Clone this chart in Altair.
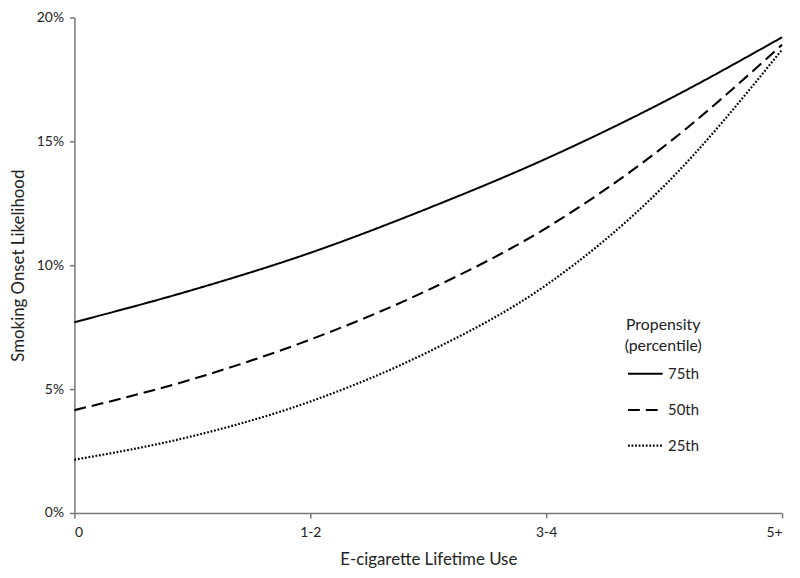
import altair as alt
import pandas as pd

categories = ["0", "1-2", "3-4", "5+"]
x_pos = [0, 0.5, 1, 1.5, 2, 2.5, 3]
series_names = ["75th", "50th", "25th"]
p75 = [7.7, 9.0, 10.5, 12.3, 14.3, 16.6, 19.2]
p50 = [4.15, 5.4, 7.0, 9.0, 11.5, 14.8, 18.9]
p25 = [2.15, 3.1, 4.5, 6.5, 9.2, 13.2, 18.7]
y_ticks = [0, 5, 10, 15, 20]

rows = []
for name, vals in zip(series_names, [p75, p50, p25]):
    for x, v in zip(x_pos, vals):
        rows.append({"x": x, "y": v / 100, "Propensity": name})
df = pd.DataFrame(rows)

label_expr = "[" + ",".join(f"'{c}'" for c in categories) + "][datum.value]"

FONT = "Lato"

chart = alt.Chart(df).mark_line(interpolate="monotone", color="black").encode(
    x=alt.X("x:Q", scale=alt.Scale(domain=[0, 3], nice=False),
            axis=alt.Axis(values=[0, 1, 2, 3], labelExpr=label_expr,
                          title="E-cigarette Lifetime Use", grid=False,
                          titlePadding=12, labelPadding=8)),
    y=alt.Y("y:Q", scale=alt.Scale(domain=[0, 0.2], nice=False),
            axis=alt.Axis(values=[t / 100 for t in y_ticks], format=".0%",
                          title="Smoking Onset Likelihood", grid=False,
                          titlePadding=9, labelPadding=6)),
    strokeDash=alt.StrokeDash("Propensity:N",
                              scale=alt.Scale(domain=series_names,
                                              range=[[1, 0], [12, 6], [1.8, 1.8]]),
                              legend=alt.Legend(title=["Propensity", "(percentile)"],
                                                orient="none", legendX=555, legendY=302,
                                                symbolType="stroke", symbolSize=1225,
                                                symbolStrokeWidth=2, symbolStrokeColor="black",
                                                labelFontSize=15, titleFontSize=16,
                                                titleFontWeight="normal", titleAlign="center",
                                                titleAnchor="middle", titleLineHeight=22,
                                                titlePadding=1, rowPadding=9,
                                                labelOffset=4, labelColor="#222",
                                                titleColor="#222")),
    strokeWidth=alt.StrokeWidth("Propensity:N",
                                scale=alt.Scale(domain=series_names, range=[2, 2.2, 1.6]),
                                legend=None),
).properties(
    width=714, height=500,
    autosize=alt.AutoSizeParams(type="none"),
    padding={"left": 67, "top": 7, "right": 10, "bottom": 55},
).configure_view(stroke=None).configure_axis(
    labelFont=FONT, titleFont=FONT, labelFontSize=14, titleFontSize=17,
    titleFontWeight="normal", labelColor="#222", titleColor="#222",
    domainColor="#777", domainWidth=1.5, tickColor="#777", tickSize=5, tickWidth=1.5,
).configure_legend(labelFont=FONT, titleFont=FONT)

chart.save("out.html", embed_options={"renderer": "svg", "actions": False})
